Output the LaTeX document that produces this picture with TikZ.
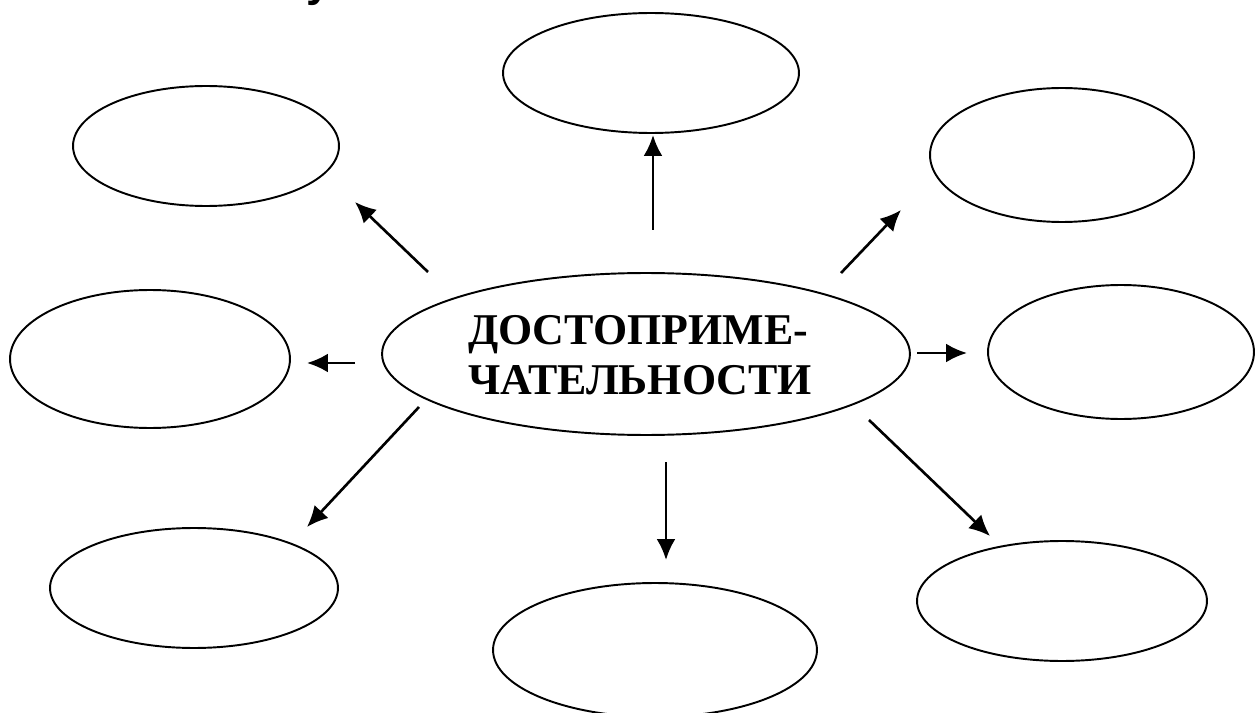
\documentclass[tikz,border=0pt]{standalone}
\usepackage{fontspec}
\setmainfont{Liberation Serif}
\newfontfamily\titlefont{Liberation Sans}
\usetikzlibrary{shapes.geometric,arrows.meta}

\begin{document}
\begin{tikzpicture}[x=0.02cm, y=-0.02cm,
        cell/.style={draw, ellipse, line width=1.1pt, inner sep=0pt},
        arr/.style={-{Latex[length=4.2mm, width=3.8mm]}, line width=1.5pt}]
        \useasboundingbox (0,0) rectangle (1259,713);

        \node[anchor=base west, font=\titlefont\bfseries\fontsize{25}{30}\selectfont] (frag) at (300,-3) {у};

        \node[cell, minimum width=10.56cm, minimum height=3.24cm] (centre) at (646,354) {};
        \node[align=left, font=\bfseries\fontsize{25}{28.5}\selectfont] (title) at (640,355)
              {ДОСТОПРИМЕ-\\ЧАТЕЛЬНОСТИ};

        \node[cell, minimum width=5.92cm, minimum height=2.4cm] (top) at (651,73) {};
        \node[cell, minimum width=5.32cm, minimum height=2.4cm] (topleft) at (206,146) {};
        \node[cell, minimum width=5.28cm, minimum height=2.68cm] (topright) at (1062,155) {};
        \node[cell, minimum width=5.6cm, minimum height=2.76cm] (left) at (150,359) {};
        \node[cell, minimum width=5.32cm, minimum height=2.68cm] (right) at (1121,352) {};
        \node[cell, minimum width=5.76cm, minimum height=2.4cm] (botleft) at (194,588) {};
        \node[cell, minimum width=6.48cm, minimum height=2.68cm] (bottom) at (655,650) {};
        \node[cell, minimum width=5.8cm, minimum height=2.4cm] (botright) at (1062,601) {};

        \coordinate (s1) at (653,230);  \coordinate (e1) at (653,135);
        \coordinate (s2) at (428,272);  \coordinate (e2) at (355,202);
        \coordinate (s3) at (841,273);  \coordinate (e3) at (901,210);
        \coordinate (s4) at (355,363);  \coordinate (e4) at (307,363);
        \coordinate (s5) at (917,353);  \coordinate (e5) at (967,353);
        \coordinate (s6) at (419,407);  \coordinate (e6) at (307,527);
        \coordinate (s7) at (666,462);  \coordinate (e7) at (666,560);
        \coordinate (s8) at (869,420);  \coordinate (e8) at (990,536);

        \draw[arr] (s1) -- (e1);
        \draw[arr] (s2) -- (e2);
        \draw[arr] (s3) -- (e3);
        \draw[arr] (s4) -- (e4);
        \draw[arr] (s5) -- (e5);
        \draw[arr] (s6) -- (e6);
        \draw[arr] (s7) -- (e7);
        \draw[arr] (s8) -- (e8);
\end{tikzpicture}
\end{document}
